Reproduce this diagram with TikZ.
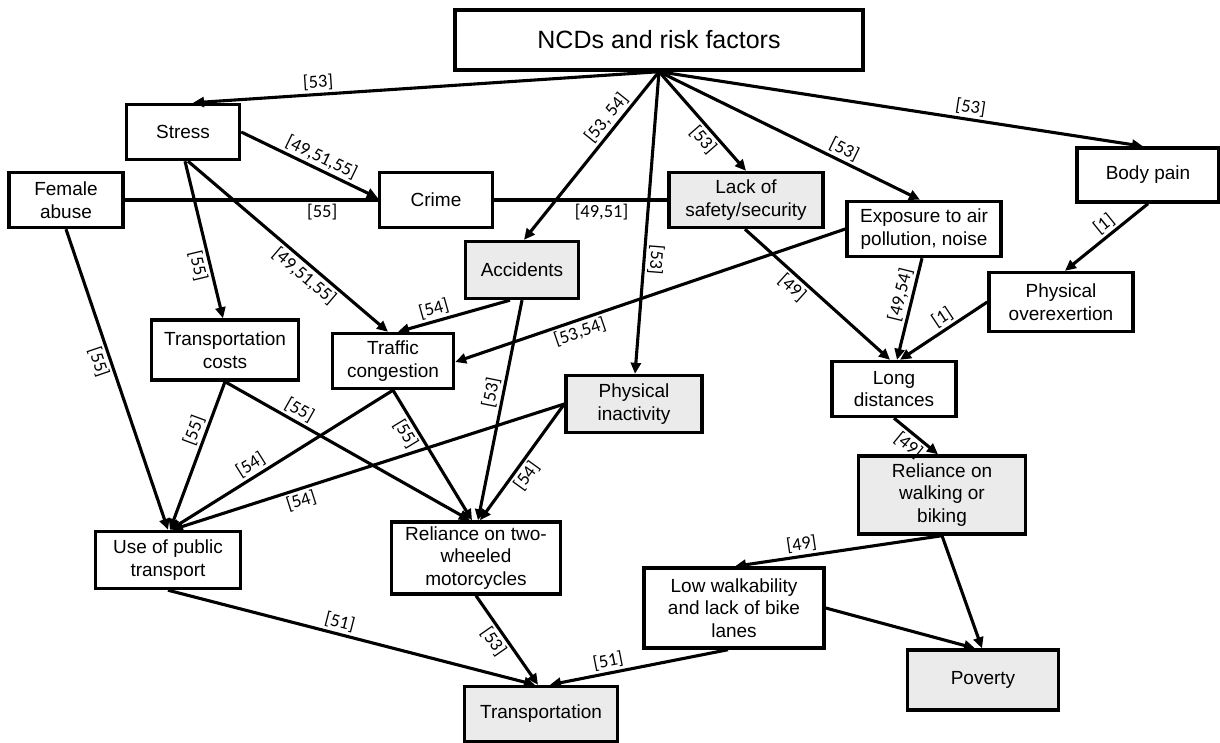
\documentclass[tikz,border=0pt]{standalone}
\usepackage{fontspec}
\setmainfont{Liberation Sans}
\newfontfamily\labfont{Carlito}
\usetikzlibrary{arrows.meta,calc}
\definecolor{boxgray}{HTML}{EBEBEB}
\tikzset{
  box/.style={draw=black, line width=3.4pt, align=center, inner sep=0pt,
    font=\fontsize{19}{22.5}\selectfont},
  gbox/.style={box, fill=boxgray},
  arr/.style={line width=3.1pt, -{Triangle[length=11pt,width=10pt]}},
  ln/.style={line width=3.1pt},
  lab/.style={font=\labfont\fontsize{18.5}{18.5}\selectfont, inner sep=2.5pt, sloped}
}
\begin{document}
\begin{tikzpicture}[x=1pt,y=-1pt]
\useasboundingbox (0,0) rectangle (1220,743);
% nodes
\node[box, minimum width=408, minimum height=60, font=\fontsize{25}{28}\selectfont] (ncd) at (659,40) {NCDs and risk factors};
\node[box, minimum width=113, minimum height=55] (stress) at (183,132) {Stress};
\node[box, minimum width=114, minimum height=55] (female) at (66,200) {Female\\abuse};
\node[box, minimum width=113, minimum height=55] (crime) at (436,200) {Crime};
\node[gbox, minimum width=154, minimum height=55] (lack) at (746,200) {Lack of\\safety/security};
\node[box, minimum width=142, minimum height=54] (body) at (1148,175) {Body pain};
\node[box, minimum width=154, minimum height=55] (expo) at (924,229) {Exposure to air\\pollution, noise};
\node[gbox, minimum width=113, minimum height=57] (acc) at (522,270) {Accidents};
\node[box, minimum width=147, minimum height=60] (tcost) at (225,350) {Transportation\\costs};
\node[box, minimum width=121, minimum height=55] (traffic) at (393,361) {Traffic\\congestion};
\node[gbox, minimum width=136, minimum height=57] (inact) at (634,404) {Physical\\inactivity};
\node[box, minimum width=144, minimum height=59] (overex) at (1061,302) {Physical\\overexertion};
\node[box, minimum width=124, minimum height=55] (long) at (894,389) {Long\\distances};
\node[gbox, minimum width=167, minimum height=78] (walk) at (942,495) {Reliance on\\walking or\\biking};
\node[box, minimum width=145, minimum height=57] (upt) at (168,560) {Use of public\\transport};
\node[box, minimum width=169, minimum height=72] (moto) at (476,558) {Reliance on two-\\wheeled\\motorcycles};
\node[box, minimum width=180, minimum height=80] (loww) at (734,608) {Low walkability\\and lack of bike\\lanes};
\node[gbox, minimum width=153, minimum height=55] (transp) at (541,714) {Transportation};
\node[gbox, minimum width=151, minimum height=60] (pov) at (983,680) {Poverty};
% edges from NCDs
\draw[arr] (ncd.south) -- node[lab, pos=0.73, above] {[53]} ($(stress.north)+(10,0)$);
\draw[arr] (ncd.south) -- node[lab, pos=0.32, above] {[53, 54]} ($(acc.north)+(2,0)$);
\draw[arr] (ncd.south) -- node[lab, pos=0.62, above, allow upside down] {[53]} ($(inact.north)+(1,0)$);
\draw[arr] (ncd.south) -- node[lab, pos=0.61, below] {[53]} (lack.north);
\draw[arr] (ncd.south) -- node[lab, pos=0.69, above] {[53]} ($(expo.north)+(-4,0)$);
\draw[arr] (ncd.south) -- node[lab, pos=0.64, above] {[53]} ($(body.north)+(-5,0)$);
% stress
\draw[arr] (stress.east) -- node[lab, pos=0.55, above] {[49,51,55]} ($(crime.west)+(0,-2)$);
\draw[ln] (female.east) -- node[lab, pos=0.78, below] {[55]} (crime.west);
\draw[ln] (crime.east) -- node[lab, pos=0.62, below] {[49,51]} (lack.west);
\draw[arr] ($(stress.south)+(2,0)$) -- node[lab, pos=0.65, below] {[55]} ($(tcost.north)+(-2,0)$);
\draw[arr] ($(stress.south)+(5,0)$) -- node[lab, pos=0.62, below] {[49,51,55]} ($(traffic.north)+(-5,0)$);
\draw[arr] (female.south) -- node[lab, pos=0.43, below] {[55]} (upt.north);
% middle
\draw[arr] ($(acc.south)+(-12,0)$) -- node[lab, pos=0.65, above] {[54]} ($(traffic.north)+(5,0)$);
\draw[arr] (expo.west) -- node[lab, pos=0.69, below] {[53,54]} ($(traffic.east)+(0,1)$);
\draw[arr] (acc.south) -- node[lab, pos=0.43, above] {[53]} ($(moto.north)+(2,0)$);
\draw[arr] ($(lack.south)+(-1,0)$) -- node[lab, pos=0.38, below] {[49]} ($(long.north)+(-4,0)$);
\draw[arr] ($(expo.south)+(-2,0)$) -- node[lab, pos=0.39, above] {[49,54]} ($(long.north)+(3,0)$);
\draw[arr] (body.south) -- node[lab, pos=0.44, above] {[1]} ($(overex.north)+(4,0)$);
\draw[arr] (overex.west) -- node[lab, pos=0.44, above] {[1]} ($(long.north)+(6,0)$);
\draw[arr] (tcost.south) -- node[lab, pos=0.36, above] {[55]} ($(upt.north)+(2,0)$);
\draw[arr] (tcost.south) -- node[lab, pos=0.28, above] {[55]} ($(moto.north)+(-6,0)$);
\draw[arr] (traffic.south) -- node[lab, pos=0.61, above] {[54]} ($(upt.north)+(2,0)$);
\draw[arr] (traffic.south) -- node[lab, pos=0.29, below] {[55]} ($(moto.north)+(-4,0)$);
\draw[arr] (inact.west) -- node[lab, pos=0.68, below] {[54]} ($(upt.north)+(4,0)$);
\draw[arr] (inact.west) -- node[lab, pos=0.56, below] {[54]} ($(moto.north)+(4,0)$);
\draw[arr] (long.south) -- node[lab, pos=0.5, below] {[49]} ($(walk.north)+(-4,0)$);
\draw[arr] (walk.south) -- node[lab, pos=0.67, above] {[49]} ($(loww.north)+(1,0)$);
\draw[arr] (walk.south) -- ($(pov.north)+(-1,0)$);
\draw[arr] (loww.east) -- ($(pov.north)+(-8,0)$);
% bottom
\draw[arr] (upt.south) -- node[lab, pos=0.46, above] {[51]} ($(transp.north)+(-6,0)$);
\draw[arr] (moto.south) -- node[lab, pos=0.44, below] {[53]} ($(transp.north)+(-3,0)$);
\draw[arr] ($(loww.south)+(-6,0)$) -- node[lab, pos=0.66, above] {[51]} ($(transp.north)+(9,0)$);
\end{tikzpicture}
\end{document}
